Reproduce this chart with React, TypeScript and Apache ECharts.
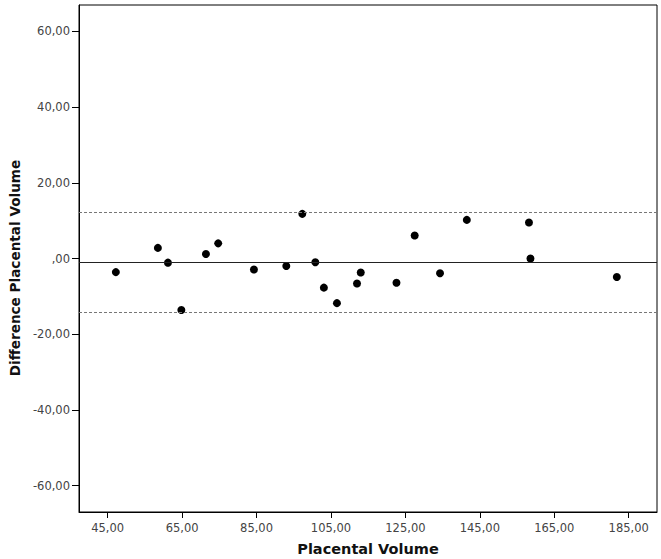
import React, { useEffect, useRef } from "react";
import * as echarts from "echarts";

const placentalVolume = [47.2, 58.5, 61.2, 64.8, 71.4, 74.7, 84.3, 93.0, 97.3, 100.8, 103.1, 106.6, 112.0, 113.0, 122.6, 127.5, 134.3, 141.5, 158.2, 158.6, 181.8];
const difference = [-3.6, 2.8, -1.1, -13.6, 1.2, 4.0, -2.9, -2.0, 11.8, -1.0, -7.7, -11.8, -6.6, -3.7, -6.4, 6.1, -3.9, 10.2, 9.5, 0.0, -4.9];
const meanDifference = -1.1;
const upperLimit = 12.3;
const lowerLimit = -14.3;
const xTicks = [45, 65, 85, 105, 125, 145, 165, 185];
const yTicks = [-60, -40, -20, 0, 20, 40, 60];

const fmt = (v: number) => (v === 0 ? ",00" : Number(v).toFixed(2).replace(".", ","));

export default function App() {
  const ref = useRef<HTMLDivElement>(null);
  useEffect(() => {
    if (!ref.current) return;
    const chart = echarts.init(ref.current, null, { renderer: "svg" });
    const font = "DejaVu Sans";
    chart.setOption({
      animation: false,
      backgroundColor: "#fff",
      grid: { left: 79, top: 5, right: 4, bottom: 47, show: true, borderColor: "#000", borderWidth: 1, backgroundColor: "transparent" },
      xAxis: {
        type: "value",
        min: 37.3,
        max: 192.6,
        splitLine: { show: false },
        axisLine: { show: true, onZero: false, lineStyle: { color: "#000", width: 1 } },
        axisTick: { show: true, inside: false, length: 6, customValues: xTicks, lineStyle: { color: "#000" } },
        axisLabel: { customValues: xTicks, formatter: fmt, color: "#444", fontFamily: font, fontSize: 11.5, margin: 10 },
      },
      yAxis: {
        type: "value",
        min: -67,
        max: 67,
        splitLine: { show: false },
        axisLine: { show: true, onZero: false, lineStyle: { color: "#000", width: 1 } },
        axisTick: { show: true, inside: false, length: 7, customValues: yTicks, lineStyle: { color: "#000" } },
        axisLabel: { customValues: yTicks, formatter: fmt, color: "#444", fontFamily: font, fontSize: 11.5, margin: 9 },
      },
      graphic: [
        { type: "text", x: 368, y: 549, style: { text: "Placental Volume", font: `bold 14.5px ${font}`, fill: "#111", textAlign: "center", textVerticalAlign: "middle" } },
        { type: "text", x: 15, y: 268, rotation: Math.PI / 2, style: { text: "Difference Placental Volume", font: `bold 13.6px ${font}`, fill: "#111", textAlign: "center", textVerticalAlign: "middle" } },
      ],
      series: [
        {
          type: "scatter",
          data: placentalVolume.map((x, i) => [x, difference[i]]),
          symbol: "circle",
          symbolSize: 8,
          itemStyle: { color: "#000", opacity: 1 },
          markLine: {
            silent: true,
            symbol: "none",
            label: { show: false },
            data: [
              { yAxis: meanDifference, lineStyle: { color: "#222", type: "solid", width: 1 } },
              { yAxis: upperLimit, lineStyle: { color: "#777", type: [3, 2], width: 1 } },
              { yAxis: lowerLimit, lineStyle: { color: "#777", type: [3, 2], width: 1 } },
            ],
          },
        },
      ],
    });
    return () => chart.dispose();
  }, []);
  return <div ref={ref} style={{ position: "fixed", left: 0, top: 0, width: 661, height: 559 }} />;
}
